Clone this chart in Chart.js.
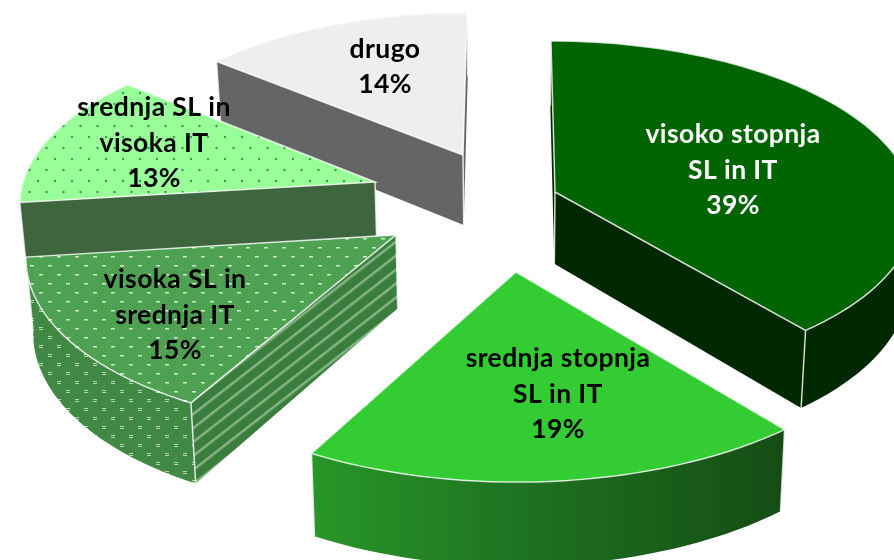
<!DOCTYPE html>
<html>
<head>
<meta charset="utf-8">
<style>
  html, body { margin: 0; padding: 0; background: #fff; }
  canvas { display: block; }
</style>
<script src="https://cdn.jsdelivr.net/npm/chart.js@4"></script>
</head>
<body>
<canvas id="pieCanvas" width="894" height="560"></canvas>
<script>
// Data
const categories = ["visoko stopnja SL in IT", "srednja stopnja SL in IT", "visoka SL in srednja IT", "srednja SL in visoka IT", "drugo"];
const values = [39, 19, 15, 13, 14];
const labelLines = [["visoko stopnja", "SL in IT"], ["srednja stopnja", "SL in IT"], ["visoka SL in", "srednja IT"], ["srednja SL in", "visoka IT"], ["drugo"]];

// Camera for the tilted pie (one pie radius = 1 on the ground plane)
const view = { cx: 510, cy: 212, rx: 362, ry: 170, persp: 0.1, depth: 72.5, shrink: 0.985 };
// How far each slice is pulled out of the pie, in pie radii, and its size
const explodeX = [0.1258, 0.016, -0.3107, -0.3796, -0.1343];
const explodeY = [0.119, -0.341, -0.133, 0.18, 0.347];
const sizeScale = [1, 1.03, 1, 0.99, 0.98];
// Label centres
const labelX = [733, 558, 175, 154, 385];
const labelY = [170, 394, 315, 143, 67];
const labelColors = ["#ffffff", "#000000", "#000000", "#000000", "#000000"];

const canvas = document.getElementById("pieCanvas");
const ctx = canvas.getContext("2d");

function makeTile(w, h, paint) {
    const tile = document.createElement("canvas");
    tile.width = w;
    tile.height = h;
    paint(tile.getContext("2d"));
    return ctx.createPattern(tile, "repeat");
}

// Fine diagonal hatch with rows of small dashes
function hatchTile(base, line, dash, upright) {
    return makeTile(18, 18, function (t) {
        t.fillStyle = base;
        t.fillRect(0, 0, 18, 18);
        t.strokeStyle = line;
        t.lineWidth = 1.2;
        for (let i = -18; i < 36; i += 3) {
            t.beginPath();
            t.moveTo(i, 0);
            t.lineTo(i + 18, 18);
            t.stroke();
        }
        t.fillStyle = dash;
        [[3, 4], [12, 13]].forEach(function (p) {
            if (upright) {
                t.fillRect(p[0], p[1] - 1, 4, 1);
                t.fillRect(p[0], p[1] + 1, 4, 1);
            } else {
                t.fillRect(p[0], p[1], 4, 1.5);
            }
        });
    });
}

const dotTile = makeTile(17, 22, function (t) {
    t.fillStyle = "#99ff99";
    t.fillRect(0, 0, 17, 22);
    t.fillStyle = "#3f9a50";
    [[4, 5], [12.5, 16]].forEach(function (p) {
        t.beginPath();
        t.arc(p[0], p[1], 1.2, 0, Math.PI * 2);
        t.fill();
    });
});

const stripeTile = makeTile(11, 11, function (t) {
    t.fillStyle = "#3a7d3c";
    t.fillRect(0, 0, 11, 11);
    t.fillStyle = "#86b386";
    t.fillRect(0, 4, 11, 2.5);
});
stripeTile.setTransform(new DOMMatrix().rotate(-38));

const rimGradient = ctx.createLinearGradient(313, 0, 778, 0);
rimGradient.addColorStop(0, "#289628");
rimGradient.addColorStop(0.5, "#1e6f20");
rimGradient.addColorStop(1, "#154d14");

const topFills = ["#006400", "#33cc33", hatchTile("#62b062", "#3f9546", "#cfeccf", false), dotTile, "#eeeeee"];
const rimFills = ["#002800", rimGradient, hatchTile("#4f9a50", "#367a3c", "#b4d8b4", true), "#3e653e", "#656565"];
const sideFills = ["#002800", "#1e6f20", stripeTile, "#3e653e", "#656565"];

function project(X, Y) {
    const w = 1 + view.persp * Y;
    return { x: view.cx + view.rx * X / w, y: view.cy - view.ry * Y / w, w: w };
}

function drop(p) {
    return { x: view.cx + (p.x - view.cx) * view.shrink, y: p.y + view.depth / p.w };
}

function fillPoly(c, pts, fill) {
    c.beginPath();
    pts.forEach(function (p, i) {
        if (i === 0) c.moveTo(p.x, p.y);
        else c.lineTo(p.x, p.y);
    });
    c.closePath();
    c.fillStyle = fill;
    c.fill();
}

// Pie slice with a perspective top face and side walls
class Arc3D extends Chart.ArcElement {
    static id = "arc3d";

    draw(c) {
        const i = this.$context.dataIndex;
        const start = this.startAngle;
        const end = this.endAngle;
        const apex = project(explodeX[i], explodeY[i]);
        const steps = Math.ceil((end - start) / (Math.PI / 90));
        const rim = [];
        for (let s = 0; s <= steps; s++) {
            const a = start + (end - start) * s / steps;
            rim.push(project(explodeX[i] + sizeScale[i] * Math.cos(a), explodeY[i] - sizeScale[i] * Math.sin(a)));
        }
        const first = rim[0];
        const last = rim[rim.length - 1];
        const rimDown = rim.map(drop).reverse();

        c.save();
        fillPoly(c, [apex, last, drop(last), drop(apex)], sideFills[i]);
        fillPoly(c, [apex, first, drop(first), drop(apex)], sideFills[i]);
        fillPoly(c, rim.concat(rimDown), rimFills[i]);

        c.strokeStyle = this.options.borderColor;
        c.lineWidth = this.options.borderWidth;
        [apex, first, last].forEach(function (p) {
            const q = drop(p);
            c.beginPath();
            c.moveTo(p.x, p.y);
            c.lineTo(q.x, q.y);
            c.stroke();
        });

        fillPoly(c, [apex].concat(rim), this.options.backgroundColor);
        c.stroke();
        c.restore();
    }
}

class Pie3D extends Chart.PieController {
    static id = "pie3d";
    static defaults = { dataElementType: "arc3d" };

    // back slices first, the front ones lie over them
    draw() {
        const c = this.chart.ctx;
        this.getMeta().data.slice().reverse().forEach(function (el) {
            el.draw(c);
        });
    }
}

Chart.register(Arc3D, Pie3D);

const sliceLabels = {
    id: "sliceLabels",
    afterDatasetsDraw(chart) {
        const c = chart.ctx;
        c.save();
        c.font = "bold 26.5px Lato";
        c.letterSpacing = "0.4px";
        c.textAlign = "center";
        c.textBaseline = "middle";
        values.forEach(function (v, i) {
            const lines = labelLines[i].concat([v + "%"]);
            c.fillStyle = labelColors[i];
            lines.forEach(function (line, n) {
                c.fillText(line, labelX[i], labelY[i] + (n - (lines.length - 1) / 2) * 35.5);
            });
        });
        c.restore();
    },
};

new Chart(ctx, {
    type: "pie3d",
    data: {
        labels: categories,
        datasets: [
            {
                data: values,
                backgroundColor: topFills,
                borderColor: "rgba(255,255,255,0.8)",
                borderWidth: 1.5,
            },
        ],
    },
    options: {
        responsive: false,
        animation: false,
        plugins: {
            legend: { display: false },
            tooltip: { enabled: false },
        },
    },
    plugins: [sliceLabels],
});
</script>
</body>
</html>
